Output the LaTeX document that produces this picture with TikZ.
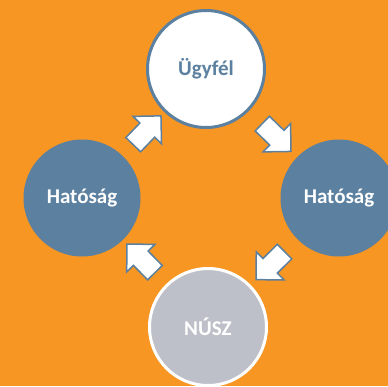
\documentclass[tikz,border=0pt]{standalone}
\usepackage{fontspec}
\setmainfont{Carlito}
\usetikzlibrary{shapes.arrows, positioning}

\definecolor{bgorange}{RGB}{247,150,34}
\definecolor{slateblue}{RGB}{92,128,160}
\definecolor{paleslate}{RGB}{190,192,201}

\begin{document}
\begin{tikzpicture}[x=1pt, y=-1pt,
    party/.style={circle, minimum size=117pt, inner sep=0pt, font=\fontsize{21}{25}\selectfont\bfseries},
    client/.style={party, draw=slateblue, line width=3pt, fill=white, text=slateblue},
    authority/.style={party, fill=slateblue, text=white},
    provider/.style={party, draw=white, line width=3pt, fill=paleslate, text=white},
    flow/.style={single arrow, draw=slateblue, line width=1.5pt, fill=white, minimum height=40pt, inner xsep=0pt, inner ysep=9.5pt, single arrow head extend=9.5pt, sloped, allow upside down}
]

\clip (0,0) rectangle (388,386);
\fill[bgorange] (0,0) rectangle (388,386);

\node[client] (ugyfel) at (206,69) {Ügyfél};
\node[authority] (hatosagright) at (339,198) {Hatóság};
\node[provider] (nusz) at (208,327) {NÚSZ};
\node[authority] (hatosagleft) at (82,198) {Hatóság};

\path (hatosagleft) -- node[flow] {} (ugyfel);
\path (ugyfel) -- node[flow] {} (hatosagright);
\path (hatosagright) -- node[flow] {} (nusz);
\path (nusz) -- node[flow] {} (hatosagleft);

\end{tikzpicture}
\end{document}
